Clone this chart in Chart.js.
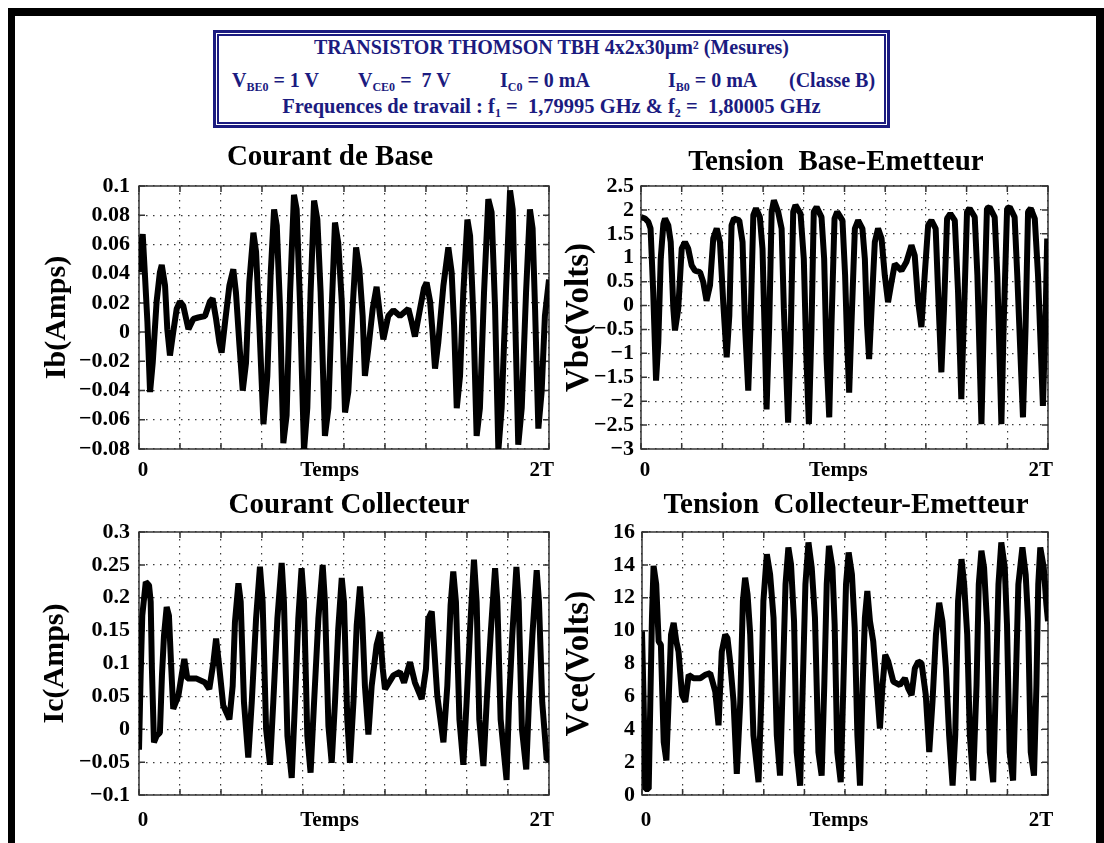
<!DOCTYPE html>
<html>
<head>
<meta charset="utf-8">
<title>Transistor Thomson TBH - mesures</title>
<script src="https://cdn.jsdelivr.net/npm/chart.js@4.4.0/dist/chart.umd.min.js"></script>
<style>
  html, body { margin: 0; padding: 0; background: #fff; overflow: hidden; }
  #page { position: relative; width: 1104px; height: 843px; overflow: hidden; font-family: "Liberation Serif", "Times New Roman", serif; }
  #frame { position: absolute; left: 8px; top: 8px; width: 1081px; height: 900px;
           border-left: 7px solid #000; border-top: 8px solid #000; border-right: 8px solid #000; }
  #hdr { position: absolute; left: 213px; top: 30px; width: 671px; height: 92px; border: 3px solid #1b1b80; color: #1b1b80; font-weight: bold; font-size: 20px; }
  #hdr .in { position: absolute; left: 1px; top: 1px; right: 1px; bottom: 1px; border: 2px solid #1b1b80; }
  #hdr .line { position: absolute; left: 0; width: 100%; text-align: center; line-height: 1; white-space: pre; }
  #hdr .l2 span { position: absolute; top: 0; white-space: pre; }
  #hdr sub { font-size: 12px; vertical-align: -4px; line-height: 0; }
  canvas { position: absolute; }
</style>
</head>
<body>
<div id="page">
  <div id="frame"></div>
  <div id="hdr">
    <div class="in"></div>
    <div class="line" style="top:4px">TRANSISTOR THOMSON TBH 4x2x30µm² (Mesures)</div>
    <div class="line l2" style="top:37px">
      <span style="left:16px">V<sub>BE0</sub> = 1 V</span>
      <span style="left:142px">V<sub>CE0</sub> =  7 V</span>
      <span style="left:284px">I<sub>C0</sub> = 0 mA</span>
      <span style="left:452px">I<sub>B0</sub> = 0 mA</span>
      <span style="left:573px">(Classe B)</span>
    </div>
    <div class="line" style="top:63px;font-size:20.5px">Frequences de travail : f<sub>1</sub> =  1,79995 GHz &amp; f<sub>2</sub> =  1,80005 GHz</div>
  </div>
  <canvas id="ib" width="545" height="359" style="left:20px;top:130px"></canvas>
  <canvas id="vbe" width="510" height="359" style="left:555px;top:130px"></canvas>
  <canvas id="ic" width="545" height="357" style="left:20px;top:478px"></canvas>
  <canvas id="vce" width="510" height="357" style="left:555px;top:478px"></canvas>
</div>
<script>
const FONT = '"Liberation Serif", "Times New Roman", serif';

// time in units of T (0 .. 2T)
const ibTime = [0, 0.005, 0.018, 0.029, 0.041, 0.054, 0.067, 0.086, 0.102, 0.111, 0.127, 0.138, 0.151, 0.167, 0.184, 0.2, 0.216, 0.241, 0.265, 0.289, 0.322, 0.346, 0.359, 0.376, 0.392, 0.403, 0.42, 0.441, 0.46, 0.473, 0.489, 0.506, 0.522, 0.538, 0.558, 0.571, 0.587, 0.607, 0.626, 0.642, 0.659, 0.672, 0.688, 0.704, 0.72, 0.737, 0.756, 0.769, 0.785, 0.805, 0.821, 0.837, 0.854, 0.87, 0.886, 0.907, 0.924, 0.94, 0.956, 0.972, 0.989, 1.005, 1.021, 1.042, 1.059, 1.075, 1.091, 1.102, 1.119, 1.14, 1.159, 1.176, 1.192, 1.216, 1.241, 1.273, 1.314, 1.33, 1.346, 1.371, 1.39, 1.403, 1.42, 1.433, 1.444, 1.46, 1.485, 1.509, 1.525, 1.537, 1.55, 1.566, 1.582, 1.602, 1.615, 1.631, 1.647, 1.663, 1.683, 1.704, 1.72, 1.737, 1.753, 1.769, 1.79, 1.81, 1.823, 1.834, 1.85, 1.867, 1.888, 1.907, 1.92, 1.932, 1.948, 1.964, 1.98, 2];
const ibAmps = [0.041, 0.055, 0.067, 0.039, 0.007, -0.041, -0.021, 0.021, 0.041, 0.046, 0.032, 0.002, -0.016, 0, 0.016, 0.021, 0.018, 0.002, 0.009, 0.010, 0.011, 0.021, 0.023, 0.009, -0.007, -0.014, 0.007, 0.032, 0.043, 0.027, -0.007, -0.040, -0.021, 0.034, 0.068, 0.055, 0.005, -0.063, -0.030, 0.039, 0.084, 0.073, 0.016, -0.076, -0.057, 0.027, 0.094, 0.084, 0.021, -0.081, -0.052, 0.027, 0.090, 0.077, 0.027, -0.071, -0.052, 0.016, 0.075, 0.061, 0.021, -0.055, -0.041, 0.016, 0.058, 0.043, 0.011, -0.030, -0.011, 0.016, 0.031, 0.011, -0.005, 0.011, 0.015, 0.011, 0.016, 0.007, -0.003, 0.016, 0.030, 0.034, 0.021, -0.002, -0.025, -0.007, 0.032, 0.058, 0.041, 0.005, -0.052, -0.030, 0.027, 0.077, 0.066, 0.011, -0.071, -0.052, 0.027, 0.091, 0.082, 0.016, -0.081, -0.052, 0.027, 0.097, 0.084, 0.016, -0.077, -0.052, 0.027, 0.084, 0.071, 0.016, -0.066, -0.041, 0.011, 0.036];

const vbeTime = [0, 0.020, 0.036, 0.047, 0.060, 0.074, 0.085, 0.097, 0.110, 0.118, 0.134, 0.146, 0.159, 0.167, 0.183, 0.2, 0.216, 0.232, 0.249, 0.265, 0.29, 0.306, 0.322, 0.339, 0.355, 0.372, 0.388, 0.404, 0.421, 0.434, 0.445, 0.457, 0.483, 0.499, 0.511, 0.527, 0.538, 0.552, 0.565, 0.584, 0.597, 0.609, 0.617, 0.630, 0.642, 0.653, 0.674, 0.691, 0.702, 0.723, 0.735, 0.748, 0.759, 0.784, 0.800, 0.813, 0.825, 0.838, 0.849, 0.863, 0.887, 0.9, 0.912, 0.925, 0.936, 0.951, 0.964, 0.990, 1.003, 1.013, 1.023, 1.034, 1.051, 1.067, 1.088, 1.100, 1.111, 1.121, 1.133, 1.149, 1.165, 1.182, 1.198, 1.214, 1.231, 1.247, 1.28, 1.304, 1.329, 1.345, 1.362, 1.378, 1.394, 1.411, 1.427, 1.448, 1.460, 1.476, 1.489, 1.504, 1.520, 1.542, 1.558, 1.574, 1.588, 1.602, 1.615, 1.640, 1.653, 1.673, 1.684, 1.700, 1.713, 1.738, 1.751, 1.771, 1.782, 1.799, 1.812, 1.836, 1.849, 1.877, 1.890, 1.902, 1.915, 1.935, 1.951, 1.975, 1.989, 1.996, 2.0];
const vbeVolts = [1.85, 1.82, 1.75, 1.61, 0.28, -1.57, -0.77, 0.98, 1.71, 1.82, 1.68, 1.33, -0.07, -0.52, -0.07, 1.19, 1.33, 1.19, 0.84, 0.73, 0.70, 0.49, 0.10, 0.42, 1.40, 1.61, 1.33, 0.07, -1.08, -0.21, 1.68, 1.82, 1.78, 1.33, -0.42, -1.78, -0.42, 1.89, 2.03, 1.85, 1.19, -0.77, -2.17, -0.42, 1.96, 2.20, 1.96, 1.61, -0.07, -2.45, -0.77, 1.96, 2.10, 1.92, 0.98, -1.12, -2.48, -0.42, 1.96, 2.06, 1.85, 0.98, -1.12, -2.34, -0.42, 1.82, 1.96, 1.78, 0.63, -0.77, -1.82, -0.42, 1.61, 1.78, 1.61, 0.98, -0.42, -1.12, -0.07, 1.33, 1.61, 1.40, 0.63, 0.07, 0.49, 0.87, 0.73, 0.91, 1.26, 1.05, 0.07, -0.45, 0.63, 1.68, 1.78, 1.61, 0.28, -1.40, -0.07, 1.82, 1.92, 1.78, 0.28, -1.96, -0.07, 1.96, 2.03, 1.85, 0.63, -2.48, -0.42, 2.03, 2.06, 1.85, 0.63, -2.48, -0.42, 2.03, 2.06, 1.85, 0.63, -2.34, -0.42, 1.96, 2.03, 1.82, 0.63, -2.10, -0.07, 1.40, -0.14];

const icTime = [0, 0.008, 0.016, 0.033, 0.049, 0.057, 0.063, 0.073, 0.086, 0.102, 0.112, 0.122, 0.135, 0.146, 0.156, 0.167, 0.192, 0.208, 0.221, 0.236, 0.281, 0.322, 0.343, 0.363, 0.376, 0.389, 0.411, 0.441, 0.457, 0.468, 0.485, 0.496, 0.512, 0.533, 0.550, 0.571, 0.590, 0.603, 0.620, 0.639, 0.655, 0.675, 0.696, 0.707, 0.724, 0.745, 0.761, 0.777, 0.793, 0.805, 0.821, 0.837, 0.854, 0.875, 0.896, 0.907, 0.924, 0.940, 0.956, 0.972, 0.989, 1.0, 1.016, 1.029, 1.046, 1.062, 1.078, 1.089, 1.102, 1.119, 1.135, 1.159, 1.176, 1.189, 1.200, 1.241, 1.273, 1.293, 1.322, 1.346, 1.379, 1.400, 1.411, 1.428, 1.439, 1.455, 1.485, 1.504, 1.520, 1.533, 1.546, 1.563, 1.582, 1.598, 1.615, 1.634, 1.647, 1.660, 1.680, 1.696, 1.715, 1.737, 1.748, 1.764, 1.793, 1.805, 1.821, 1.841, 1.852, 1.868, 1.889, 1.902, 1.919, 1.940, 1.951, 1.967, 1.989, 2.0];
const icAmps = [-0.031, 0.082, 0.173, 0.224, 0.219, 0.194, 0.092, -0.020, -0.010, -0.005, 0.082, 0.143, 0.186, 0.173, 0.102, 0.031, 0.051, 0.082, 0.107, 0.077, 0.077, 0.071, 0.061, 0.102, 0.138, 0.102, 0.036, 0.015, 0.066, 0.163, 0.222, 0.194, 0.041, -0.043, 0.041, 0.168, 0.247, 0.194, 0, -0.054, 0.041, 0.168, 0.253, 0.194, -0.010, -0.074, 0.041, 0.168, 0.245, 0.194, -0.010, -0.066, 0.041, 0.168, 0.250, 0.194, 0.005, -0.051, 0.041, 0.153, 0.230, 0.194, 0.015, -0.051, 0.041, 0.158, 0.217, 0.168, 0.066, -0.008, 0.066, 0.128, 0.148, 0.092, 0.061, 0.082, 0.087, 0.071, 0.102, 0.071, 0.046, 0.092, 0.168, 0.179, 0.128, 0.051, -0.020, 0.066, 0.189, 0.240, 0.194, 0.015, -0.054, 0.041, 0.153, 0.258, 0.194, 0.015, -0.056, 0.041, 0.143, 0.245, 0.194, 0.015, -0.077, 0.041, 0.143, 0.247, 0.194, 0, -0.061, 0.041, 0.143, 0.242, 0.194, 0.041, -0.046, -0.046];

const vceTime = [0, 0.008, 0.016, 0.033, 0.041, 0.049, 0.057, 0.070, 0.082, 0.093, 0.107, 0.120, 0.131, 0.143, 0.156, 0.169, 0.180, 0.197, 0.213, 0.230, 0.254, 0.287, 0.311, 0.336, 0.361, 0.377, 0.393, 0.41, 0.421, 0.434, 0.451, 0.467, 0.484, 0.497, 0.508, 0.520, 0.533, 0.549, 0.574, 0.587, 0.598, 0.615, 0.631, 0.648, 0.664, 0.680, 0.693, 0.707, 0.721, 0.734, 0.749, 0.762, 0.779, 0.792, 0.805, 0.820, 0.836, 0.852, 0.869, 0.885, 0.898, 0.910, 0.921, 0.938, 0.949, 0.962, 0.979, 0.992, 1.005, 1.018, 1.034, 1.048, 1.061, 1.074, 1.087, 1.098, 1.110, 1.123, 1.139, 1.156, 1.172, 1.185, 1.198, 1.213, 1.238, 1.270, 1.295, 1.311, 1.328, 1.344, 1.361, 1.377, 1.398, 1.415, 1.431, 1.448, 1.464, 1.480, 1.497, 1.513, 1.530, 1.543, 1.557, 1.574, 1.587, 1.602, 1.615, 1.631, 1.648, 1.659, 1.672, 1.685, 1.700, 1.713, 1.730, 1.743, 1.756, 1.770, 1.787, 1.798, 1.811, 1.828, 1.841, 1.854, 1.874, 1.890, 1.902, 1.915, 1.931, 1.943, 1.952, 1.962, 1.979, 1.992, 2.0];
const vceVolts = [9.96, 5.67, 0.37, 0.37, 5.67, 10.78, 13.94, 12.82, 9.35, 9.14, 3.22, 2.10, 5.67, 9.76, 10.47, 9.35, 8.73, 6.08, 5.67, 7.31, 7.10, 7.10, 7.31, 7.41, 6.29, 4.24, 8.73, 9.76, 9.55, 8.12, 5.67, 1.29, 5.67, 11.80, 13.22, 12.20, 9.76, 3.63, 0.78, 5.67, 11.80, 14.65, 13.43, 10.78, 3.63, 1.18, 6.69, 12.82, 15.06, 14.04, 10.57, 2.61, 0.57, 6.69, 12.82, 15.37, 13.84, 10.78, 2.61, 1.18, 6.69, 12.82, 15.16, 13.84, 10.37, 2.61, 0.78, 6.69, 12.82, 14.76, 13.43, 10.16, 3.63, 0.57, 6.69, 10.78, 12.41, 10.57, 9.35, 6.69, 4.04, 6.69, 8.53, 8.12, 6.90, 6.69, 7.10, 6.49, 6.08, 7.71, 8.12, 8.02, 6.08, 2.61, 5.67, 9.76, 11.69, 10.57, 7.71, 3.63, 0.57, 3.63, 11.80, 14.35, 12.82, 9.76, 3.63, 0.88, 6.69, 12.82, 14.86, 13.84, 10.37, 2.61, 0.78, 6.69, 12.82, 15.37, 13.84, 10.37, 2.61, 0.88, 6.69, 12.82, 15.06, 13.43, 10.57, 2.61, 1.18, 6.69, 12.82, 15.06, 13.84, 11.59, 10.57];

// x axis: grid every T/5, labels 0 / Temps / 2T
const xGridTicks = [0, 0.2, 0.4, 0.6, 0.8, 1.0, 1.2, 1.4, 1.6, 1.8, 2.0];
const xLabelText = ['0', 'Temps', '2T'];
const xLabelPosLeft = [0.02, 0.93, 1.965];
const xLabelPosRight = [0.02, 0.97, 1.965];

const gridColor = '#3a3a3a';
const isGrid = v => xGridTicks.some(g => Math.abs(g - v) < 1e-9);

// box around the plot area, inward ticks and panel title
const panelDeco = {
  id: 'panelDeco',
  beforeDatasetsDraw(chart) {
    const { ctx, chartArea: a, scales: { x, y } } = chart;
    ctx.save();
    ctx.strokeStyle = '#333';
    ctx.lineWidth = 1.5;
    ctx.strokeRect(a.left, a.top, a.right - a.left, a.bottom - a.top);
    ctx.beginPath();
    xGridTicks.forEach(v => {
      const px = x.getPixelForValue(v);
      ctx.moveTo(px, a.top); ctx.lineTo(px, a.top + 6);
      ctx.moveTo(px, a.bottom); ctx.lineTo(px, a.bottom - 6);
    });
    y.ticks.forEach(t => {
      const py = y.getPixelForValue(t.value);
      ctx.moveTo(a.left, py); ctx.lineTo(a.left + 6, py);
      ctx.moveTo(a.right, py); ctx.lineTo(a.right - 6, py);
    });
    ctx.stroke();
    ctx.restore();
  },
  afterDraw(chart, args, opts) {
    const { ctx, chartArea: a } = chart;
    ctx.save();
    ctx.font = 'bold 29px ' + FONT;
    ctx.fillStyle = '#000';
    ctx.textAlign = 'center';
    ctx.textBaseline = 'middle';
    ctx.fillText(opts.text, a.left + opts.dx, a.top - opts.dy);
    ctx.restore();
  }
};

function fmtTick(v) {
  const r = Math.round(v * 1000) / 1000;
  return r === 0 ? '0' : String(r).replace('-', '\u2212');
}

function makePanel(id, p) {
  const labelPos = p.labelPos;
  new Chart(document.getElementById(id), {
    type: 'line',
    data: {
      datasets: [{
        data: p.time.map((t, i) => ({ x: t, y: p.values[i] })),
        borderColor: '#000',
        borderWidth: 6,
        borderJoinStyle: 'bevel',
        pointRadius: 0,
        tension: 0,
        fill: false
      }]
    },
    options: {
      responsive: false,
      animation: false,
      events: [],
      layout: { padding: { top: p.padTop, right: p.padRight, bottom: 0, left: 0 } },
      plugins: {
        legend: { display: false },
        tooltip: { enabled: false },
        panelDeco: { text: p.title, dx: p.titleDx, dy: p.titleDy }
      },
      scales: {
        x: {
          type: 'linear',
          min: 0,
          max: 2,
          afterBuildTicks: s => {
            s.ticks = xGridTicks.concat(labelPos).map(v => ({ value: v }));
          },
          afterFit: s => { s.height = 40; s.paddingLeft = 0; s.paddingRight = 0; },
          ticks: {
            autoSkip: false,
            maxRotation: 0,
            padding: p.xPad,
            color: '#000',
            font: { family: FONT, size: 21, weight: 'bold' },
            callback: (v, i) => (i >= xGridTicks.length ? xLabelText[i - xGridTicks.length] : '')
          },
          grid: {
            drawTicks: false,
            lineWidth: 1.2,
            color: c => (c.tick && isGrid(c.tick.value) ? gridColor : 'rgba(0,0,0,0)')
          },
          border: { display: false, dash: [1.5, 5.5] }
        },
        y: {
          min: p.yMin,
          max: p.yMax,
          afterFit: s => { s.width = p.yWidth; s.paddingTop = 0; s.paddingBottom = 0; },
          ticks: {
            autoSkip: false,
            stepSize: p.yStep,
            padding: p.yPad,
            color: '#000',
            font: { family: FONT, size: 22, weight: 'bold' },
            callback: v => fmtTick(v)
          },
          grid: { drawTicks: false, lineWidth: 1.2, color: gridColor },
          border: { display: false, dash: [1.5, 5.5] },
          title: {
            display: true,
            text: p.yTitle,
            color: '#000',
            font: { family: FONT, size: p.yTitleSize, weight: 'bold', lineHeight: 1 },
            padding: { top: p.yTitlePad, bottom: 0 }
          }
        }
      }
    },
    plugins: [panelDeco]
  });
}

makePanel('ib', {
  time: ibTime, values: ibAmps, title: 'Courant de Base', titleDx: 191, titleDy: 28,
  yMin: -0.08, yMax: 0.1, yStep: 0.02, yTitle: 'Ib(Amps)', yTitleSize: 30, yTitlePad: 22,
  yWidth: 119, yPad: 9, padTop: 56, padRight: 16, xPad: 9, labelPos: xLabelPosLeft
});
makePanel('vbe', {
  time: vbeTime, values: vbeVolts, title: 'Tension  Base-Emetteur', titleDx: 195, titleDy: 23,
  yMin: -3, yMax: 2.5, yStep: 0.5, yTitle: 'Vbe(Volts)', yTitleSize: 33, yTitlePad: 8,
  yWidth: 86, yPad: 7, padTop: 56, padRight: 17, xPad: 9, labelPos: xLabelPosRight
});
makePanel('ic', {
  time: icTime, values: icAmps, title: 'Courant Collecteur', titleDx: 210, titleDy: 26,
  yMin: -0.1, yMax: 0.3, yStep: 0.05, yTitle: 'Ic(Amps)', yTitleSize: 30, yTitlePad: 20,
  yWidth: 119, yPad: 9, padTop: 54, padRight: 16, xPad: 13, labelPos: xLabelPosLeft
});
makePanel('vce', {
  time: vceTime, values: vceVolts, title: 'Tension  Collecteur-Emetteur', titleDx: 204, titleDy: 26,
  yMin: 0, yMax: 16, yStep: 2, yTitle: 'Vce(Volts)', yTitleSize: 33, yTitlePad: 8,
  yWidth: 87, yPad: 7, padTop: 54, padRight: 17, xPad: 13, labelPos: xLabelPosRight
});
</script>
</body>
</html>
